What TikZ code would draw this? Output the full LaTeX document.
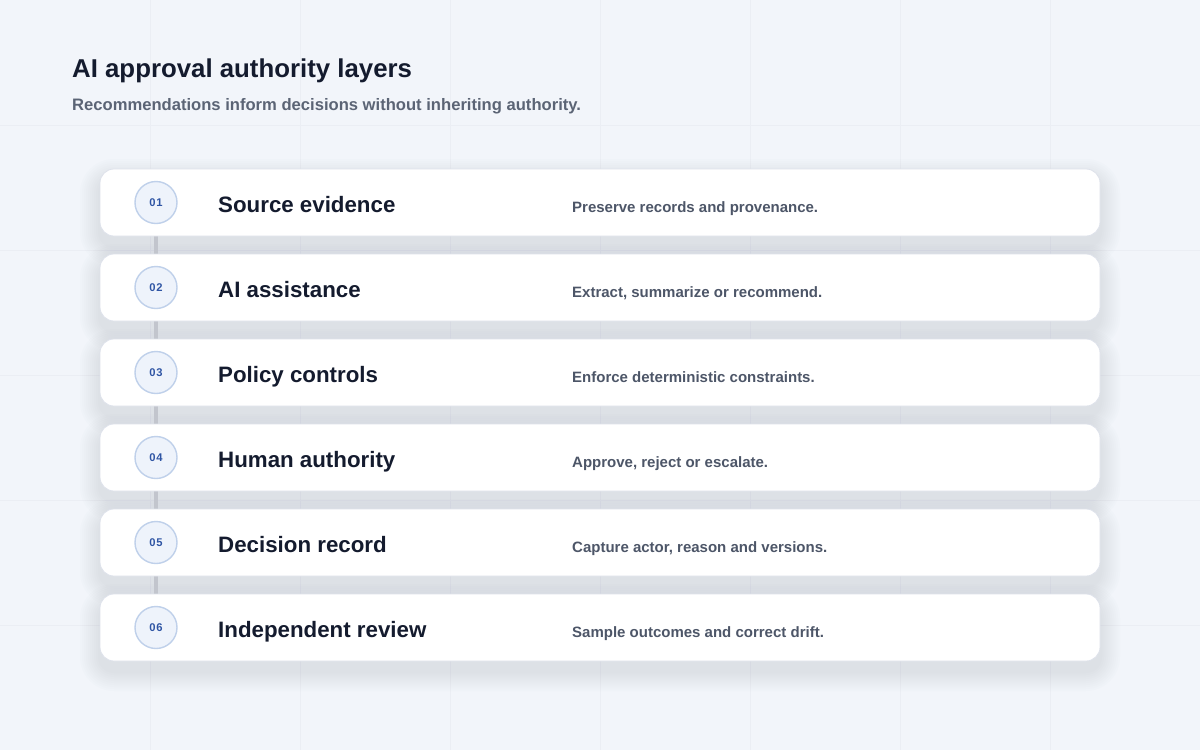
\documentclass[tikz,border=0pt]{standalone}
\usepackage{fontspec}
\setmainfont{Liberation Sans}
\usetikzlibrary{backgrounds}

\definecolor{ink}{HTML}{141B2E}
\definecolor{subink}{HTML}{5B6475}
\definecolor{noteink}{HTML}{4D5668}
\definecolor{numink}{HTML}{2F55A4}
\definecolor{ringfill}{HTML}{EEF3FB}
\definecolor{ringline}{HTML}{BFD0EA}
\definecolor{cardline}{HTML}{DEE2EB}
\definecolor{shadowtint}{HTML}{8A93B2}
\definecolor{gridline}{HTML}{EBEEF4}
\definecolor{pagefill}{HTML}{F2F5FA}
\definecolor{linkgray}{HTML}{C2C5CD}

\pgfdeclarelayer{bg}
\pgfsetlayers{bg,background,main}

\begin{document}
\begin{tikzpicture}[x=1pt,y=-1pt,
  layer/.style={draw=cardline,line width=0.8pt,fill=white,rounded corners=14pt,
    minimum width=1000pt,minimum height=67pt,inner sep=0pt},
  badge/.style={circle,draw=ringline,line width=1.4pt,fill=ringfill,minimum size=42pt,
    inner sep=0pt,text=numink,font=\fontsize{11.2}{12}\selectfont\bfseries\addfontfeature{LetterSpace=8}},
  head/.style={anchor=base west,inner sep=0pt,text=ink,font=\fontsize{22.3}{26}\selectfont\bfseries},
  note/.style={anchor=base west,inner sep=0pt,text=noteink,font=\fontsize{15}{18}\selectfont\bfseries},
  link/.style={draw=linkgray,line width=4pt},
  gridrule/.style={draw=gridline,line width=0.8pt},
  halo/.style={fill=shadowtint,opacity=0.018}
]
\useasboundingbox (0,0) rectangle (1200,750);
\begin{pgfonlayer}{bg}
  \fill[pagefill] (0,0) rectangle (1200,750);
  \foreach \gx in {150,300,...,1050} \draw[gridrule] (\gx,0) -- (\gx,750);
  \foreach \gy in {125,250,...,625} \draw[gridrule] (0,\gy) -- (1200,\gy);
\end{pgfonlayer}

\node[anchor=base west,inner sep=0pt,text=ink,font=\fontsize{25.8}{30}\selectfont\bfseries]
  (title) at (72,77) {AI approval authority layers};
\node[anchor=base west,inner sep=0pt,text=subink,font=\fontsize{16.6}{20}\selectfont\bfseries]
  (subtitle) at (72,110) {Recommendations inform decisions without inheriting authority.};

\foreach \num/\head/\note [count=\i] in {
    01/Source evidence/Preserve records and provenance.,
    02/AI assistance/{Extract, summarize or recommend.},
    03/Policy controls/Enforce deterministic constraints.,
    04/Human authority/{Approve, reject or escalate.},
    05/Decision record/{Capture actor, reason and versions.},
    06/Independent review/Sample outcomes and correct drift.}{
  \pgfmathsetmacro\yc{202.5+85*(\i-1)}
  \begin{pgfonlayer}{background}
    \foreach \k in {1,...,10}{
      \pgfmathsetmacro\rr{14+2*\k}
      \fill[halo,rounded corners=\rr pt]
        (100-2*\k,\yc-33.5-2*\k+10) rectangle (1100+2*\k,\yc+33.5+2*\k+10);
    }
  \end{pgfonlayer}
  \node[layer] (c\i) at (600,\yc) {};
  \node[badge] (b\i) at (156,\yc) {\num};
  \node[head] (h\i) at (218,\yc+9.5) {\head};
  \node[note] (n\i) at (572,\yc+9.5) {\note};
}

\begin{pgfonlayer}{background}
  \foreach \i [evaluate=\i as \j using int(\i+1)] in {1,...,5}
    \draw[link] (b\i) -- (b\j);
\end{pgfonlayer}
\end{tikzpicture}
\end{document}
